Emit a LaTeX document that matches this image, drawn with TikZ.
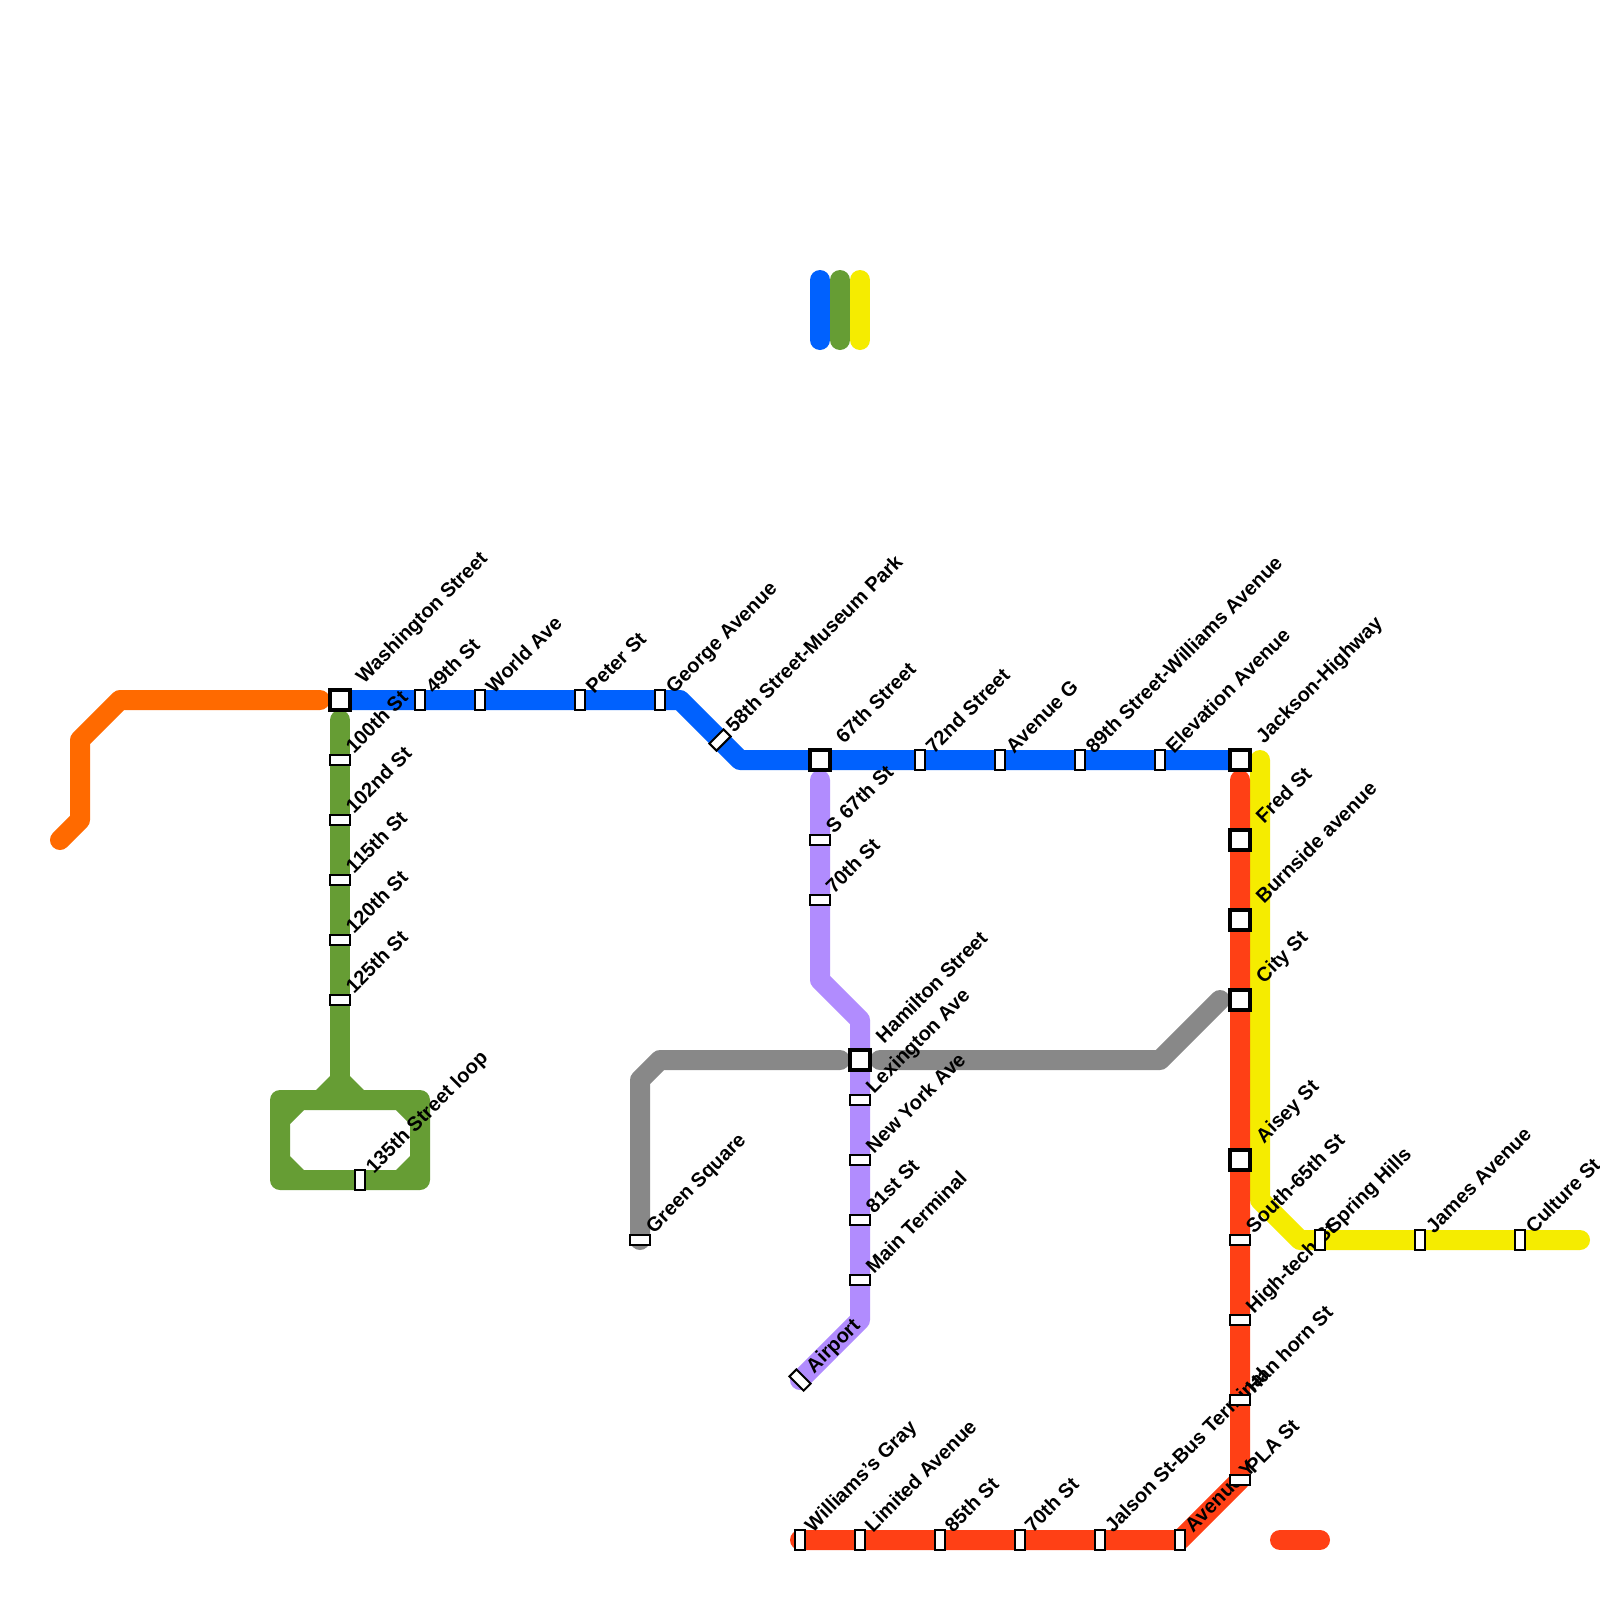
\documentclass[tikz,border=0pt]{standalone}
\usepackage{fontspec}
\setmainfont{Liberation Sans}
\newfontfamily\lblfont{Liberation Sans Bold}
\usetikzlibrary{backgrounds,calc}
\pgfdeclarelayer{labels}
\pgfsetlayers{background,labels,main}
\definecolor{lblue}{HTML}{0061FE}
\definecolor{lorange}{HTML}{FF6A00}
\definecolor{lgreen}{HTML}{669D34}
\definecolor{lyellow}{HTML}{F5EC00}
\definecolor{lpurple}{HTML}{B18CFE}
\definecolor{lred}{HTML}{FF4015}
\definecolor{lgrey}{HTML}{888888}
\tikzset{
  metro/.style={line width=20pt,line cap=round,line join=round},
  hstop/.style={draw=black,fill=white,line width=2pt,minimum width=20pt,minimum height=10pt,inner sep=0pt,outer sep=0pt,rectangle},
  vstop/.style={hstop,minimum width=10pt,minimum height=20pt},
  dstop/.style={hstop,rotate=45},
  dstopb/.style={hstop,rotate=-45},
  xstop/.style={draw=black,fill=white,line width=4pt,minimum width=20pt,minimum height=20pt,inner sep=0pt,outer sep=0pt,rectangle},
  lbl/.style={anchor=base west,rotate=45,inner sep=0pt,outer sep=0pt,text=black,font=\lblfont\fontsize{20pt}{24pt}\selectfont},
}
\newcommand{\stn}[6]{% style, name, x, y, dx/dy label, text
  \node[#1] (#2) at (#3,#4) {};
  \begin{pgfonlayer}{labels}
  \node[lbl] (#2l) at ($(#2.center)+(#5)$) {#6};
  \end{pgfonlayer}
}
\begin{document}
\begin{tikzpicture}[x=1pt,y=-1pt]
\useasboundingbox (0,0) rectangle (1600,1600);
% blue
\stn{xstop}{washington}{340}{700}{24,-16}{Washington Street}
\stn{vstop}{fortynine}{420}{700}{14,-6}{49th St}
\stn{vstop}{world}{480}{700}{14,-6}{World Ave}
\stn{vstop}{peter}{580}{700}{14,-6}{Peter St}
\stn{vstop}{george}{660}{700}{14,-6}{George Avenue}
\stn{dstop}{fiftyeight}{720}{740}{14,-7}{58th Street-Museum Park}
\stn{xstop}{sixtyseven}{820}{760}{24,-16}{67th Street}
\stn{vstop}{seventytwo}{920}{760}{14,-6}{72nd Street}
\stn{vstop}{aveg}{1000}{760}{14,-6}{Avenue G}
\stn{vstop}{eightynine}{1080}{760}{14,-6}{89th Street-Williams Avenue}
\stn{vstop}{elevation}{1160}{760}{14,-6}{Elevation Avenue}
\stn{xstop}{jackson}{1240}{760}{24,-16}{Jackson-Highway}
% green
\stn{hstop}{hundred}{340}{760}{14,-6}{100th St}
\stn{hstop}{hundredtwo}{340}{820}{14,-6}{102nd St}
\stn{hstop}{hundredfifteen}{340}{880}{14,-6}{115th St}
\stn{hstop}{hundredtwenty}{340}{940}{14,-6}{120th St}
\stn{hstop}{hundredtwentyfive}{340}{1000}{14,-6}{125th St}
\stn{vstop}{loopst}{360}{1180}{14,-6}{135th Street loop}
% purple
\stn{hstop}{ssixtyseven}{820}{840}{14,-6}{S 67th St}
\stn{hstop}{seventy}{820}{900}{14,-6}{70th St}
\stn{xstop}{lexhub}{860}{1060}{24,-16}{Hamilton Street}
\stn{hstop}{lexington}{860}{1100}{14,-6}{Lexington Ave}
\stn{hstop}{newyork}{860}{1160}{14,-6}{New York Ave}
\stn{hstop}{eightyone}{860}{1220}{14,-6}{81st St}
\stn{hstop}{mainterm}{860}{1280}{14,-6}{Main Terminal}
\stn{dstopb}{airport}{800}{1380}{14,-6}{Airport}
% grey
\stn{hstop}{greensq}{640}{1240}{14,-6}{Green Square}
% red
\stn{xstop}{fred}{1240}{840}{24,-16}{Fred St}
\stn{xstop}{burnside}{1240}{920}{24,-16}{Burnside avenue}
\stn{xstop}{city}{1240}{1000}{24,-16}{City St}
\stn{xstop}{aisey}{1240}{1160}{24,-16}{Aisey St}
\stn{hstop}{southsixtyfive}{1240}{1240}{14,-6}{South-65th St}
\stn{hstop}{hightech}{1240}{1320}{14,-6}{High-tech St}
\stn{hstop}{hanhorn}{1240}{1400}{14,-6}{Han horn St}
\stn{hstop}{ypla}{1240}{1480}{14,-6}{PLA St}
\stn{vstop}{williams}{800}{1540}{13,-7}{Williams’s Gray}
\stn{vstop}{limited}{860}{1540}{13,-7}{Limited Avenue}
\stn{vstop}{eightyfive}{940}{1540}{13,-7}{85th St}
\stn{vstop}{seventyb}{1020}{1540}{13,-7}{70th St}
\stn{vstop}{jalson}{1100}{1540}{13,-7}{Jalson St-Bus Terminal}
\stn{vstop}{avey}{1180}{1540}{13,-7}{Avenue Y}
% yellow
\stn{vstop}{spring}{1320}{1240}{14,-6}{Spring Hills}
\stn{vstop}{james}{1420}{1240}{14,-6}{James Avenue}
\stn{vstop}{culture}{1520}{1240}{14,-6}{Culture St}
% free ends and bends
\coordinate (o1) at (60,840); \coordinate (o2) at (80,820); \coordinate (o3) at (80,740); \coordinate (o4) at (120,700); \coordinate (o5) at (320,700);
\coordinate (b1) at (680,700); \coordinate (b2) at (740,760);
\coordinate (g1) at (340,720); \coordinate (g2) at (340,1090);
\coordinate (p1) at (820,780); \coordinate (p2) at (820,980); \coordinate (p3) at (860,1020); \coordinate (p4) at (860,1320);
\coordinate (c1) at (640,1080); \coordinate (c2) at (660,1060); \coordinate (c3) at (840,1060); \coordinate (c4) at (880,1060); \coordinate (c5) at (1160,1060); \coordinate (c6) at (1220,1000);
\coordinate (r1) at (1240,780);
\coordinate (r2) at (1280,1540); \coordinate (r3) at (1320,1540);
\coordinate (y1) at (1260,760); \coordinate (y2) at (1260,1200); \coordinate (y3) at (1300,1240); \coordinate (y4) at (1580,1240);
\coordinate (t1a) at (820,280); \coordinate (t1b) at (820,340);
\coordinate (t2a) at (840,280); \coordinate (t2b) at (840,340);
\coordinate (t3a) at (860,280); \coordinate (t3b) at (860,340);
\begin{pgfonlayer}{background}
\fill[white] (0,0) rectangle (1600,1600);
\draw[metro,lorange] (o1)--(o2)--(o3)--(o4)--(o5);
\draw[metro,lyellow] (y1)--(y2)--(y3)--(spring.center)--(y4);
\draw[metro,lgreen] (g1)--(hundred.center)--(hundredtwentyfive.center)--(g2);
\fill[lgreen,rounded corners=10pt,even odd rule]
  (270,1090) -- (430,1090) -- (430,1190) -- (270,1190) -- cycle
  [sharp corners] (304,1110) -- (396,1110) -- (410,1124) -- (410,1156) -- (396,1170) -- (304,1170) -- (290,1156) -- (290,1124) -- cycle;
\fill[lgreen] (330,1076) -- (350,1076) -- (364,1090) -- (316,1090) -- cycle;
\draw[metro,lpurple] (p1)--(ssixtyseven.center)--(seventy.center)--(p2)--(p3)--(lexhub.center)--(mainterm.center)--(p4)--(airport.center);
\draw[metro,lgrey] (greensq.center)--(c1)--(c2)--(c3);
\draw[metro,lgrey] (c4)--(c5)--(c6);
\draw[metro,lblue] (washington.center)--(george.center)--(b1)--(fiftyeight.center)--(b2)--(sixtyseven.center)--(jackson.center);
\draw[metro,lred] (r1)--(fred.center)--(ypla.center)--(avey.center)--(williams.center);
\draw[metro,lred] (r2)--(r3);
\draw[metro,lblue] (t1a)--(t1b);
\draw[metro,lgreen] (t2a)--(t2b);
\draw[metro,lyellow] (t3a)--(t3b);
\end{pgfonlayer}
\end{tikzpicture}
\end{document}
